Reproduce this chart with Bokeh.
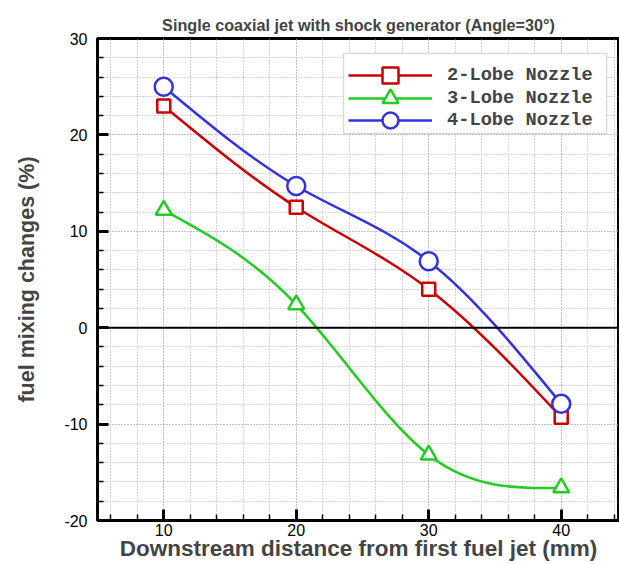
import numpy as np
from bokeh.plotting import figure
from bokeh.models import (Range1d, SingleIntervalTicker, Span, Legend, LegendItem,
                          ColumnDataSource, BoxAnnotation, PrintfTickFormatter)
from bokeh.embed import file_html
from bokeh.resources import INLINE

# ---- data ----
distance = [10, 20, 30, 40]
lobe2 = [23.0, 12.5, 4.0, -9.3]
lobe3 = [12.2, 2.4, -13.2, -16.6]
lobe4 = [25.0, 14.7, 6.9, -7.9]
series_names = ["2-Lobe Nozzle", "3-Lobe Nozzle", "4-Lobe Nozzle"]
series_colors = ["#cc0000", "#22cc22", "#3333dd"]
series_markers = ["square", "triangle", "circle"]
series_sizes = [13, 16, 18]

title_text = "Single coaxial jet with shock generator (Angle=30\u00b0)"
x_label = "Downstream distance from first fuel jet (mm)"
y_label = "fuel mixing changes (%)"


def spline_bezier(x, y):
    """Natural cubic spline through the points, returned as Bezier segments."""
    x = np.asarray(x, float)
    y = np.asarray(y, float)
    n = len(x)
    h = np.diff(x)
    A = np.zeros((n, n))
    b = np.zeros(n)
    A[0, 0] = 1
    A[-1, -1] = 1
    for i in range(1, n - 1):
        A[i, i - 1] = h[i - 1]
        A[i, i] = 2 * (h[i - 1] + h[i])
        A[i, i + 1] = h[i]
        b[i] = 6 * ((y[i + 1] - y[i]) / h[i] - (y[i] - y[i - 1]) / h[i - 1])
    M = np.linalg.solve(A, b)
    m0 = (y[1:] - y[:-1]) / h - h * (2 * M[:-1] + M[1:]) / 6
    m1 = (y[1:] - y[:-1]) / h + h * (M[:-1] + 2 * M[1:]) / 6
    return dict(x0=x[:-1], y0=y[:-1], x1=x[1:], y1=y[1:],
                cx0=x[:-1] + h / 3, cy0=y[:-1] + m0 * h / 3,
                cx1=x[1:] - h / 3, cy1=y[1:] - m1 * h / 3)


p = figure(width=619, height=564, output_backend="svg", toolbar_location=None,
           x_range=Range1d(5, 44.4), y_range=Range1d(-20, 30),
           min_border_left=97, min_border_top=38, min_border_bottom=44,
           min_border_right=0)

p.title.text = title_text
p.title.align = "center"
p.title.text_font = "Liberation Sans"
p.title.text_font_style = "bold"
p.title.text_font_size = "16.2px"
p.title.standoff = 10

p.outline_line_color = "black"
p.outline_line_width = 3
p.background_fill_color = "white"
p.border_fill_color = "white"

for ax, lab in ((p.xaxis[0], x_label), (p.yaxis[0], y_label)):
    ax.ticker = SingleIntervalTicker(interval=10, num_minor_ticks=5)
    ax.formatter = PrintfTickFormatter(format="%d")
    ax.axis_label = lab
    ax.axis_label_text_font = "Liberation Sans"
    ax.axis_label_text_font_style = "bold"
    ax.major_label_text_font = "Liberation Sans"
    ax.major_label_text_font_size = "16px"
    ax.major_label_text_color = "black"
    ax.axis_line_width = 3
    ax.axis_line_color = "black"
    ax.major_tick_in = 11
    ax.major_tick_out = 0
    ax.minor_tick_in = 6
    ax.minor_tick_out = 0
    ax.major_tick_line_width = 3
    ax.minor_tick_line_width = 1.5

p.xaxis.axis_label_text_font_size = "22.5px"
p.yaxis.axis_label_text_font_size = "21.5px"
p.xaxis.major_label_standoff = 3
p.xaxis.axis_label_standoff = -3
p.yaxis.major_label_standoff = 10
p.yaxis.axis_label_standoff = 22

for g in (p.xgrid[0], p.ygrid[0]):
    g.ticker = SingleIntervalTicker(interval=10, num_minor_ticks=5)
    g.grid_line_color = "#aaaaaa"
    g.grid_line_dash = "1 2"
    g.grid_line_width = 1
    g.minor_grid_line_color = "#aaaaaa"
    g.minor_grid_line_dash = "1 2"
    g.minor_grid_line_width = 1

p.add_layout(Span(location=0, dimension="width", line_color="black", line_width=2))

items = []
for ys, name, col, mk, sz in zip([lobe2, lobe3, lobe4], series_names, series_colors,
                                 series_markers, series_sizes):
    src = ColumnDataSource(spline_bezier(distance, ys))
    bz = p.bezier(x0="x0", y0="y0", x1="x1", y1="y1", cx0="cx0", cy0="cy0",
                  cx1="cx1", cy1="cy1", source=src, line_color=col, line_width=2.5)
    sc = p.scatter(distance, ys, marker=mk, size=sz, line_color=col, line_width=2.5,
                   fill_color="white")
    items.append(LegendItem(label=name, renderers=[bz, sc]))

# legend frame (screen units relative to the plot frame)
p.add_layout(BoxAnnotation(left=246, right=509, bottom=387, top=467,
                           left_units="screen", right_units="screen",
                           bottom_units="screen", top_units="screen",
                           fill_color="white", fill_alpha=1,
                           line_color="#888888", line_width=1.5))

row_bottoms = [425, 402.5, 380]
for item, yb in zip(items, row_bottoms):
    lg = Legend(items=[item], location=(251, yb))
    lg.margin = 0
    lg.padding = 0
    lg.spacing = 0
    lg.glyph_width = 84
    lg.glyph_height = 40
    lg.label_height = 22
    lg.label_standoff = 15
    lg.label_text_font = "Liberation Mono"
    lg.label_text_font_style = "bold"
    lg.label_text_font_size = "18.7px"
    lg.border_line_alpha = 0
    lg.background_fill_alpha = 0
    p.add_layout(lg, "center")

open("out.html", "w").write(file_html(p, INLINE))
